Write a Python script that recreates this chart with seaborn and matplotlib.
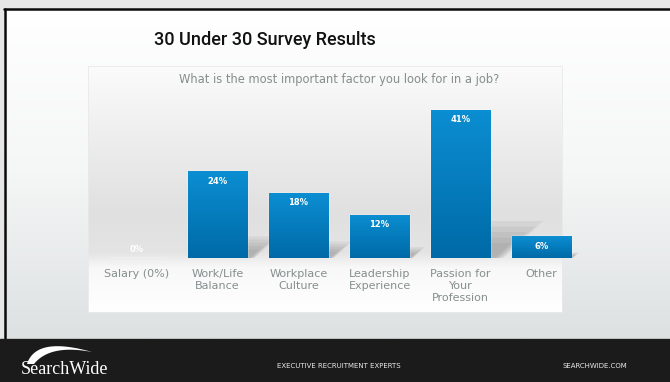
import numpy as np
import pandas as pd
import matplotlib
matplotlib.use("Agg")
import matplotlib.pyplot as plt
import seaborn as sns
from matplotlib.patches import Polygon, Rectangle

categories = ["Salary (0%)", "Work/Life\nBalance", "Workplace\nCulture",
              "Leadership\nExperience", "Passion for\nYour\nProfession", "Other"]
values = [0, 24, 18, 12, 41, 6]
value_labels = ["0%", "24%", "18%", "12%", "41%", "6%"]
title = "30 Under 30 Survey Results"
subtitle = "What is the most important factor you look for in a job?"

sns.set_theme(style="white")
plt.rcParams['font.family'] = ['DejaVu Sans']

W, H = 670, 382
fig = plt.figure(figsize=(6.7, 3.82), dpi=100)

# ---- background decoration axes in pixel coordinates ----
bg = fig.add_axes([0, 0, 1, 1])
bg.set_xlim(0, W)
bg.set_ylim(H, 0)
bg.axis("off")
bg.add_patch(Rectangle((0, 0), W, H, color="#e6e6e6", zorder=0))
grad = np.linspace(0, 1, 256).reshape(-1, 1)
slide_cmap = matplotlib.colors.LinearSegmentedColormap.from_list(
    "s", ["#ffffff", "#f5f6f6", "#dde1e2"])
bg.imshow(grad, extent=(4, W, 338, 9), cmap=slide_cmap, aspect="auto", zorder=1)
bg.plot([4.5, 4.5], [8.5, 338], color="#0a0a0a", lw=1.8, zorder=2)
bg.plot([4, W], [8.5, 8.5], color="#0a0a0a", lw=1.8, zorder=2)
# chart box gradient
box_cmap = matplotlib.colors.LinearSegmentedColormap.from_list(
    "b", [(0, "#fbfbfb"), (0.2, "#f2f2f2"), (0.6, "#e0e0e0"), (0.76, "#e4e4e4"),
          (0.82, "#f8f8f8"), (1, "#ffffff")])
bg.imshow(grad, extent=(88, 562, 312, 66), cmap=box_cmap, aspect="auto", zorder=1)
bg.add_patch(Rectangle((88, 66), 474, 246, fill=False, ec="#e9e9e9", lw=0.6, zorder=2))
# footer
bg.add_patch(Rectangle((0, 339), W, H - 339, color="#1b1b1b", zorder=2))
t = np.linspace(0, 1, 40)
def qb(p0, p1, p2):
    return [((1 - s) ** 2 * p0[0] + 2 * (1 - s) * s * p1[0] + s ** 2 * p2[0],
             (1 - s) ** 2 * p0[1] + 2 * (1 - s) * s * p1[1] + s ** 2 * p2[1]) for s in t]
outer = qb((27, 364), (36, 336), (92, 352))
inner = qb((92, 352), (50, 344), (34, 364))
bg.add_patch(Polygon(outer + inner, closed=True, color="white", lw=0, zorder=3))
bg.text(21, 370, "SearchWide", color="white", family=["Liberation Serif", "DejaVu Serif"],
        fontsize=13, va="center", ha="left", zorder=4)
bg.text(339, 366, "EXECUTIVE RECRUITMENT EXPERTS", color="#e8e8e8", fontsize=5,
        ha="center", va="center", zorder=4)
bg.text(595, 366, "SEARCHWIDE.COM", color="#e8e8e8", fontsize=5,
        ha="center", va="center", zorder=4)
# titles
bg.text(265, 40, title, color="#111111", fontsize=13, fontweight="medium",
        family=["Roboto", "DejaVu Sans"], ha="center", va="center", zorder=4)
bg.text(339, 80, subtitle, color="#868e8e", fontsize=8.3, ha="center", va="center", zorder=4)

# ---- main chart axes ----
ax = fig.add_axes([96 / W, 124 / H, 486 / W, 162.5 / H])
ax.patch.set_alpha(0)
df = pd.DataFrame({"category": categories, "value": values})
sns.barplot(data=df, x="category", y="value", ax=ax, width=0.73,
            color="#0a7fc0", saturation=1, zorder=3)
ax.set_ylim(0, 45)
ax.set_xlim(-0.5, 5.5)
for s in ax.spines.values():
    s.set_visible(False)
ax.set_yticks([])
ax.set_xlabel("")
ax.set_ylabel("")
ax.tick_params(axis="x", length=0, pad=8, labelsize=8, labelcolor="#868e8e")
for tl in ax.get_xticklabels():
    tl.set_linespacing(1.25)
    tl.set_va("top")

bar_cmap = matplotlib.colors.LinearSegmentedColormap.from_list(
    "bar", ["#006aa7", "#0b8ed2"])
for p, lab, v in zip(ax.patches, value_labels, values):
    x0, w, h = p.get_x(), p.get_width(), p.get_height()
    if h > 0:
        R = x0 + w
        for k in [1.0, 0.85, 0.7, 0.55, 0.4]:
            sh_h = 0.25 * h * k
            top_w = 0.016 * h * k
            bot_w = 0.25 * top_w
            ax.add_patch(Polygon([(R, 0), (R + bot_w, 0), (R + top_w, sh_h), (R, sh_h)],
                                 closed=True, color="#6f6f6f", alpha=0.1, lw=0, zorder=2))
        im = ax.imshow(np.linspace(0, 1, 100).reshape(-1, 1), extent=(x0, x0 + w, 0, h),
                       origin="lower", cmap=bar_cmap, aspect="auto", zorder=3.5)
        im.set_clip_path(p)
        ax.annotate(lab, (x0 + w / 2, h), xytext=(0, -7), textcoords="offset points",
                    ha="center", va="center", color="white", fontsize=6,
                    fontweight="bold", zorder=5)
    else:
        ax.annotate(lab, (x0 + w / 2, h), xytext=(0, 6), textcoords="offset points",
                    ha="center", va="center", color="white", fontsize=6,
                    fontweight="bold", zorder=5)
ax.set_xlim(-0.5, 5.5)
ax.set_ylim(0, 45)

fig.savefig("out.png", dpi=100)
